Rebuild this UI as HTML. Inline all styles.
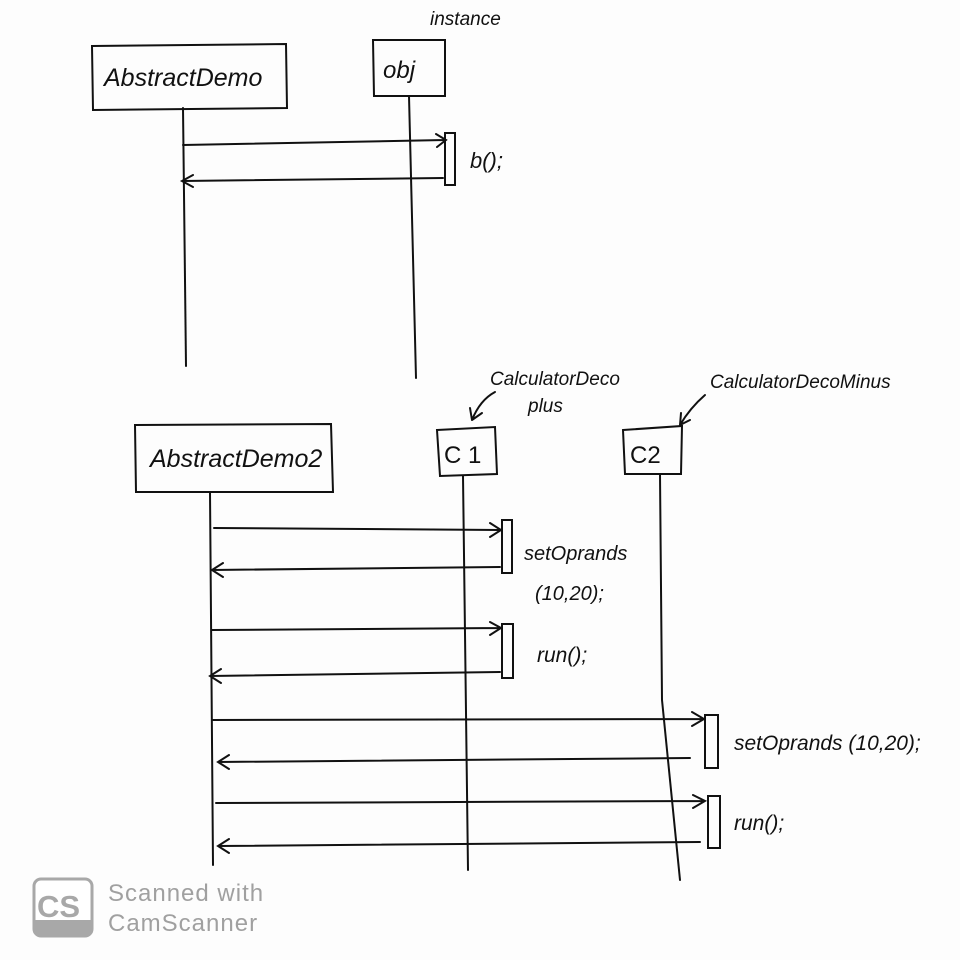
<!DOCTYPE html>
<html><head><meta charset="utf-8"><style>
html,body{margin:0;padding:0;background:#fdfdfd;}
svg{display:block}
text{font-family:"Liberation Sans",sans-serif;fill:#111}
</style></head><body>
<svg width="960" height="960" viewBox="0 0 960 960" xmlns="http://www.w3.org/2000/svg">
<g stroke="#111" stroke-width="2" fill="none" stroke-linecap="round">
<path d="M92 46 L286 44 L287 108 L93 110 Z"/>
<path d="M183 108 L186 366"/>
<path d="M373 40 L445 40 L445 96 L374 96 Z"/>
<path d="M409 96 L416 378"/>
<rect x="445" y="133" width="10" height="52"/>
<path d="M183 145 L445 140 M436 134 L446 140 L437 147"/>
<path d="M443 178 L182 181 M193 175 L182 181 L193 187"/>
<path d="M135 425 L331 424 L333 492 L136 492 Z"/>
<path d="M210 492 L213 865"/>
<path d="M437 430 L495 427 L497 474 L440 476 Z"/>
<path d="M463 476 L468 870"/>
<path d="M623 430 L682 426 L681 474 L625 474 Z"/>
<path d="M660 474 L662 700 L680 880"/>
<path d="M495 392 Q480 400 472 420 M472 420 L470 408 M472 420 L482 413"/>
<path d="M705 395 Q690 408 680 425 M680 425 L681 413 M680 425 L690 420"/>
<rect x="502" y="520" width="10" height="53"/>
<rect x="502" y="624" width="11" height="54"/>
<rect x="705" y="715" width="13" height="53"/>
<rect x="708" y="796" width="12" height="52"/>
<path d="M214 528 L500 530 M490 523 L501 530 L490 537"/>
<path d="M500 567 L212 570 M223 563 L212 570 L223 577"/>
<path d="M212 630 L500 628 M490 622 L501 628 L490 635"/>
<path d="M500 672 L210 676 M221 669 L210 676 L221 683"/>
<path d="M213 720 L704 719 M692 712 L704 719 L692 726"/>
<path d="M690 758 L218 762 M229 755 L218 762 L229 769"/>
<path d="M216 803 L705 801 M693 795 L705 801 L693 808"/>
<path d="M700 842 L218 846 M229 839 L218 846 L229 853"/>
</g>
<text x="104" y="86" font-size="25" font-style="italic">AbstractDemo</text>
<text x="383" y="78" font-size="24" font-style="italic">obj</text>
<text x="430" y="25" font-size="19" font-style="italic">instance</text>
<text x="470" y="168" font-size="22" font-style="italic">b();</text>
<text x="150" y="467" font-size="25" font-style="italic">AbstractDemo2</text>
<text x="444" y="463" font-size="24">C 1</text>
<text x="630" y="463" font-size="24">C2</text>
<text x="490" y="385" font-size="19" font-style="italic">CalculatorDeco</text>
<text x="528" y="412" font-size="19" font-style="italic">plus</text>
<text x="710" y="388" font-size="19" font-style="italic">CalculatorDecoMinus</text>
<text x="524" y="560" font-size="20" font-style="italic">setOprands</text>
<text x="535" y="600" font-size="20" font-style="italic">(10,20);</text>
<text x="537" y="662" font-size="21" font-style="italic">run();</text>
<text x="734" y="750" font-size="21" font-style="italic">setOprands (10,20);</text>
<text x="734" y="830" font-size="21" font-style="italic">run();</text>
<rect x="34" y="879" width="58" height="57" rx="7" fill="#fff" stroke="#a8a8a8" stroke-width="3"/>
<rect x="35" y="920" width="56" height="15" fill="#a8a8a8"/>
<text x="37" y="917" font-size="31" font-weight="bold" style="fill:#a8a8a8">CS</text>
<text x="108" y="901" font-size="24" style="fill:#a0a0a0;letter-spacing:1px">Scanned with</text>
<text x="108" y="931" font-size="24" style="fill:#a0a0a0;letter-spacing:1px">CamScanner</text>
</svg>
</body></html>
